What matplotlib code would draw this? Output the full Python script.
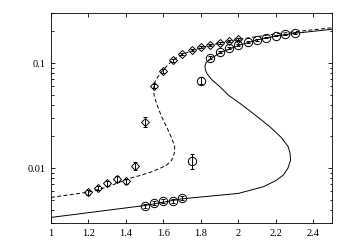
import matplotlib
matplotlib.use("Agg")
import matplotlib.pyplot as plt
from matplotlib.ticker import FixedLocator, FixedFormatter, LogLocator, NullFormatter

plt.rcParams['font.family'] = ['Liberation Serif', 'DejaVu Serif']

# Diamond series (dashed model)
dia_x = [1.20, 1.25, 1.30, 1.35, 1.40, 1.45, 1.50, 1.55, 1.60, 1.65, 1.70, 1.75, 1.80, 1.85, 1.90, 1.95, 2.00]
dia_y = [0.0059, 0.0065, 0.0072, 0.0079, 0.0075, 0.0105, 0.0276, 0.0605, 0.084, 0.106, 0.122, 0.133, 0.141, 0.148, 0.156, 0.163, 0.170]
dia_e = [0.0003, 0.0003, 0.0004, 0.0005, 0.0004, 0.0009, 0.0028, 0.003, 0.003, 0.003, 0.003, 0.003, 0.003, 0.003, 0.003, 0.003, 0.003]

# Circle series (solid model)
cir_x = [1.50, 1.55, 1.60, 1.65, 1.70, 1.75, 1.80, 1.85, 1.90, 1.95, 2.00, 2.05, 2.10, 2.15, 2.20, 2.25, 2.30]
cir_y = [0.00437, 0.0047, 0.00485, 0.0049, 0.0052, 0.0118, 0.068, 0.113, 0.127, 0.140, 0.148, 0.158, 0.167, 0.175, 0.183, 0.188, 0.193]
cir_e = [0.0002, 0.0002, 0.0002, 0.0002, 0.0002, 0.0019, 0.005, 0.003, 0.003, 0.003, 0.003, 0.003, 0.003, 0.003, 0.003, 0.003, 0.003]

# Dashed curve
dash_x = [1.00, 1.20, 1.30, 1.42, 1.475, 1.528, 1.58, 1.617, 1.640, 1.653, 1.660, 1.660, 1.653, 1.640, 1.617, 1.590, 1.564, 1.552, 1.547, 1.549, 1.556, 1.570, 1.594, 1.647, 1.70, 1.80, 1.90, 2.00, 2.20, 2.50]
dash_y = [0.00526, 0.0059, 0.0066, 0.0080, 0.0085, 0.0091, 0.0099, 0.0107, 0.0116, 0.0128, 0.0145, 0.0160, 0.0175, 0.0200, 0.0247, 0.031, 0.041, 0.048, 0.055, 0.061, 0.067, 0.074, 0.084, 0.106, 0.121, 0.140, 0.155, 0.168, 0.190, 0.217]

# Solid curve
sol_x = [1.00, 1.50, 1.70, 2.00, 2.133, 2.20, 2.24, 2.265, 2.279, 2.276, 2.266, 2.23, 2.169, 2.09, 2.009, 1.95, 1.902, 1.86, 1.835, 1.824, 1.822, 1.828, 1.848, 1.90, 2.00, 2.10, 2.20, 2.30, 2.50]
sol_y = [0.00339, 0.0044, 0.0051, 0.00574, 0.00664, 0.0076, 0.00858, 0.0100, 0.0119, 0.0138, 0.0160, 0.0195, 0.0247, 0.0320, 0.0413, 0.0490, 0.0594, 0.069, 0.0780, 0.0860, 0.0940, 0.1010, 0.108, 0.125, 0.147, 0.166, 0.181, 0.192, 0.210]

x_ticks = [1, 1.2, 1.4, 1.6, 1.8, 2, 2.2, 2.4]
x_labels = ['1', '1.2', '1.4', '1.6', '1.8', '2', '2.2', '2.4']
y_ticks = [0.01, 0.1]
y_labels = ['0.01', '0.1']

fig = plt.figure(figsize=(3.5, 2.45), dpi=100)
ax = fig.add_axes([0.1457, 0.0898, 0.8029, 0.8572])
ax.set_yscale('log')

ax.plot(dash_x, dash_y, color='black', lw=0.7, ls=(0, (4, 2.5)))
ax.plot(sol_x, sol_y, color='black', lw=0.7, ls='-')

ax.errorbar(dia_x, dia_y, yerr=dia_e, fmt='D', ms=4, mfc='none', mec='black',
            mew=0.7, ecolor='black', elinewidth=0.7, capsize=1.5, capthick=0.7)
ax.errorbar(cir_x, cir_y, yerr=cir_e, fmt='o', ms=6, mfc='none', mec='black',
            mew=0.7, ecolor='black', elinewidth=0.7, capsize=1.5, capthick=0.7)

ax.set_xlim(1, 2.5)
ax.set_ylim(0.003, 0.3)

ax.xaxis.set_major_locator(FixedLocator(x_ticks))
ax.xaxis.set_major_formatter(FixedFormatter(x_labels))
ax.yaxis.set_major_locator(FixedLocator(y_ticks))
ax.yaxis.set_major_formatter(FixedFormatter(y_labels))
ax.yaxis.set_minor_locator(LogLocator(base=10, subs=range(2, 10)))
ax.yaxis.set_minor_formatter(NullFormatter())

ax.tick_params(which='both', direction='in', top=True, right=True, width=0.6, labelsize=7.5, pad=4)
ax.tick_params(which='major', length=3)
ax.tick_params(which='minor', length=1.8)
for s in ax.spines.values():
    s.set_linewidth(0.6)

fig.savefig('out.png', dpi=100)
